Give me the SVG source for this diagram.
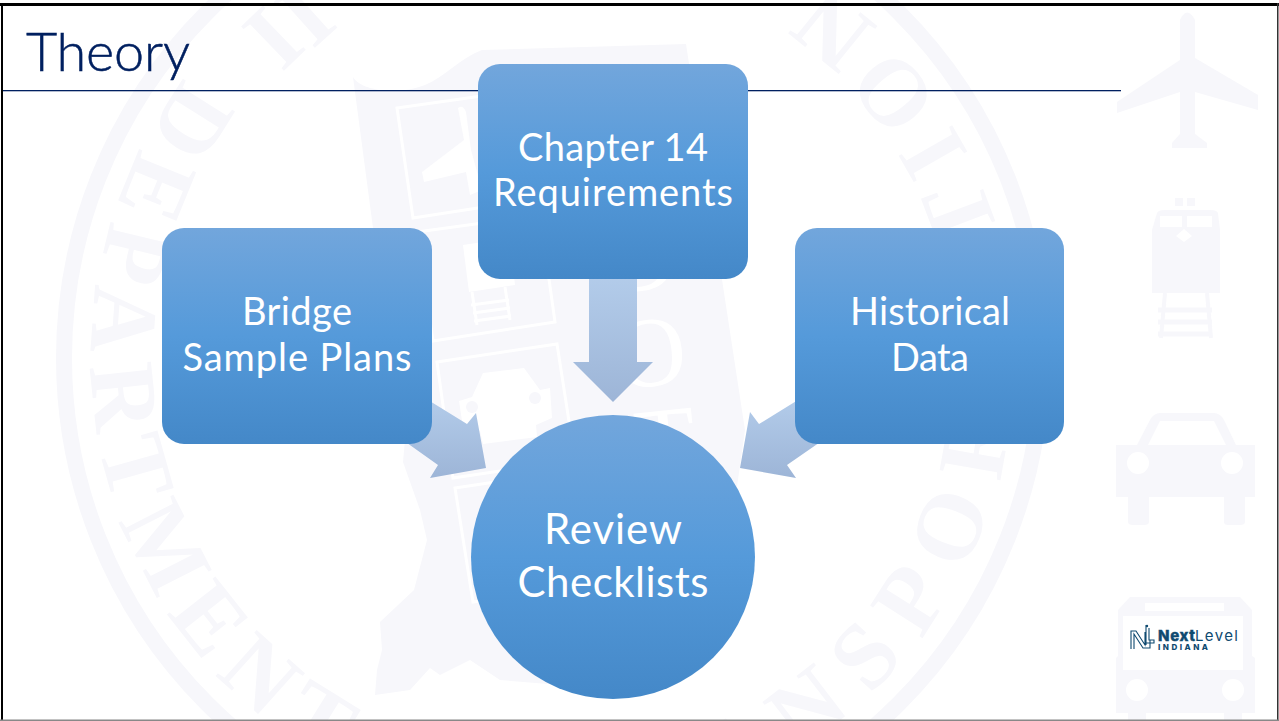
<svg xmlns="http://www.w3.org/2000/svg" xmlns:xlink="http://www.w3.org/1999/xlink" width="1279" height="721" viewBox="0 0 1279 721">
<style>
.wm{fill:#f7f7fb}
.wl{fill:none;stroke:#fff;stroke-width:3}
.wf{fill:#fff}
.seal{font-family:"Liberation Serif",serif;font-size:94px;font-weight:700;letter-spacing:15px;fill:#f7f7fb}
.node{fill:url(#nodeGrad)}
.arrow{fill:url(#arrowGrad)}
.label{font-family:Lato,"Open Sans",sans-serif;font-size:38px;fill:#fff;text-anchor:middle}
.logo{font-family:Inter,"Open Sans",sans-serif;fill:#0f4a70}
</style>
<defs>
<linearGradient id="nodeGrad" x1="0" y1="0" x2="0" y2="1"><stop offset="0" stop-color="#72a6dc"/><stop offset=".5" stop-color="#559ada"/><stop offset="1" stop-color="#4488c8"/></linearGradient>
<linearGradient id="arrowGrad" x1="0" y1="0" x2="0" y2="1"><stop offset="0" stop-color="#b4cdeb"/><stop offset="1" stop-color="#9db5d7"/></linearGradient>
<path id="sealPath" d="M553,-104A462,462 0 1 0 553,820A462,462 0 1 0 553,-104"/>
</defs>
<rect width="1279" height="721" fill="#fff"/>
<g id="watermark">
<circle cx="553" cy="358" r="489" fill="none" stroke="#f7f7fb" stroke-width="16"/>
<text class="seal"><textPath xlink:href="#sealPath" href="#sealPath" startOffset="425">DEPARTMENT</textPath></text>
<text class="seal" style="letter-spacing:23px"><textPath xlink:href="#sealPath" href="#sealPath" startOffset="1441">TRANSPORTATION</textPath></text>
<text class="seal" transform="translate(252,16) rotate(136)" text-anchor="middle" style="letter-spacing:0">I</text>
<text class="seal" transform="translate(285,-8) rotate(138)" text-anchor="middle" style="letter-spacing:0">I</text>
<path class="wm" d="M353,77C362,92 400,95 425,85C445,77 460,58 482,50L686,44L745,430L742,452L735,500L700,640L560,685L500,680L470,660L440,675L430,668L410,690L375,695L377,670L382,650L380,622L414,590L427,540L420,510L403,462L405,440L373,228Z"/>
<path class="wl" d="M397,108L510,92L530,200L413,218Z"/>
<path class="wl" d="M417,232L540,215L555,322L433,341Z"/>
<path class="wl" d="M437,362L557,344L575,460L453,478Z"/>
<path class="wl" d="M455,488L575,470L592,585L473,602Z"/>
<path class="wf" d="M458,108Q463,104 466,112L471,150L482,190L470,195L466,172L424,182L422,172L464,140Z"/>
<path class="wf" d="M463,245L510,238L515,285L469,292Z"/>
<path class="wl" d="M472,292L477,325M505,287L510,320M471,305L509,300M473,313L510,308M474,321L511,316"/>
<path class="wf" d="M459,401L472,397L483,373L524,368L540,390L550,388L552,418L536,425L537,437L483,444L480,431L464,434Z"/>
<circle class="wm" cx="472" cy="407" r="6"/><circle class="wm" cx="535" cy="398" r="6"/>
<text x="650" y="386" font-family="Liberation Serif,serif" font-size="100" fill="#fff" text-anchor="middle" transform="rotate(-6 650 353)">O</text>
<text x="640" y="291" font-family="Liberation Serif,serif" font-size="100" fill="#fff" text-anchor="middle" transform="rotate(-6 640 260)">D</text>
<text x="665" y="476" font-family="Liberation Serif,serif" font-size="100" fill="#fff" text-anchor="middle" transform="rotate(-6 665 440)">T</text>
<path class="wm" d="M1180,20Q1187,5 1195,20V58L1258,95V110L1195,92V134L1207,143V148H1172V143L1180,134V92L1117,113V102L1180,60Z"/>
<path class="wm" d="M1175,198h8v8h-8zM1187,198h8v8h-8z"/>
<path class="wm" d="M1157,213Q1158,210 1165,210H1210Q1217,210 1218,213L1220,230V293H1152V230Z"/>
<path class="wf" d="M1160,216H1182V227H1160ZM1187,216H1212V227H1187Z"/>
<path class="wf" d="M1184,229L1192,236L1184,242L1176,236Z"/>
<path fill="none" stroke="#f7f7fb" stroke-width="4" d="M1165,293L1161,338M1207,293L1211,338"/>
<path fill="none" stroke="#f7f7fb" stroke-width="5" d="M1158,310H1212M1158,322H1212M1158,334H1212"/>
<path class="wm" d="M1160,413H1214Q1220,413 1224,420L1236,445H1255V497H1245V522Q1245,525 1240,525H1228Q1224,525 1224,522V497H1149V522Q1149,525 1144,525H1133Q1128,525 1128,522V497H1116V445H1137L1150,420Q1154,413 1160,413Z"/>
<path class="wf" d="M1160,421H1214L1226,445H1148Z"/>
<circle class="wf" cx="1138" cy="463" r="11"/><circle class="wf" cx="1232" cy="463" r="11"/>
<path class="wm" d="M1130,597H1240L1252,610V656L1255,658V713H1242V721H1224V713H1146V721H1128V713H1116V658L1118,656V610Z"/>
<path class="wf" d="M1123,616H1243V670H1123ZM1145,603H1224V611H1145Z"/>
<circle class="wf" cx="1137" cy="690" r="11"/><circle class="wf" cx="1233" cy="690" r="11"/>
</g>
<g id="frame" fill="#000">
<rect x="0" y="3" width="1279" height="3"/>
<rect x="1" y="3" width="2" height="718"/>
<rect x="1277" y="3" width="1.5" height="718" fill="#333"/>
<rect x="0" y="719.500" width="1279" height="1.500" fill="#888"/>
</g>
<g id="title">
<rect x="3" y="90" width="1118" height="1.300" fill="#002060"/>
<text x="26" y="71" font-family="Lato,'Open Sans',sans-serif" font-size="54" font-weight="300" fill="#002060" stroke="#002060" stroke-width=".5" textLength="164" lengthAdjust="spacing">Theory</text>
</g>
<g id="connectors">
<path class="arrow" d="M589,270H637V362H653L613,402L573,362H589Z"/>
<path class="arrow" d="M420,395L467,424L476,413L486,468L430,478L438,465L400,438Z"/>
<path class="arrow" d="M806,395L759,424L750,412L740,468L796,478L787,465L826,438Z"/>
</g>
<g id="node-chapter"><rect class="node" x="478" y="64" width="270" height="215" rx="22"/>
<text class="label" x="613" y="161" textLength="190">Chapter 14</text><text class="label" x="613" y="206" textLength="240">Requirements</text></g>
<g id="node-bridge"><rect class="node" x="162" y="228" width="270" height="216" rx="22"/>
<text class="label" x="297" y="325" textLength="110">Bridge</text><text class="label" x="297" y="371" textLength="229">Sample Plans</text></g>
<g id="node-historical"><rect class="node" x="795" y="228" width="269" height="216" rx="22"/>
<text class="label" x="930" y="325" textLength="160">Historical</text><text class="label" x="930" y="371" textLength="78">Data</text></g>
<g id="node-review"><circle class="node" cx="613" cy="557" r="142"/>
<text class="label" x="613" y="544" style="font-size:42px" textLength="138">Review</text><text class="label" x="613" y="597" style="font-size:42px" textLength="191">Checklists</text></g>
<g id="logo">
<path fill="none" stroke="#0f4a70" stroke-width="1.100" d="M1131,649V631H1136L1145,645V632M1134,649V634L1143,648H1150V640M1146,625V645M1149,628V640H1154V643H1146"/>
<circle cx="1147" cy="626" r="1.200" fill="#0f4a70"/>
<text class="logo" x="1158" y="641" font-size="15" font-weight="800" stroke="#0f4a70" stroke-width=".4" textLength="37">Next</text>
<text class="logo" x="1195" y="641" font-size="15" textLength="43">Level</text>
<text class="logo" x="1158" y="650" font-size="8" font-weight="800" textLength="50">INDIANA</text>
</g>
</svg>
